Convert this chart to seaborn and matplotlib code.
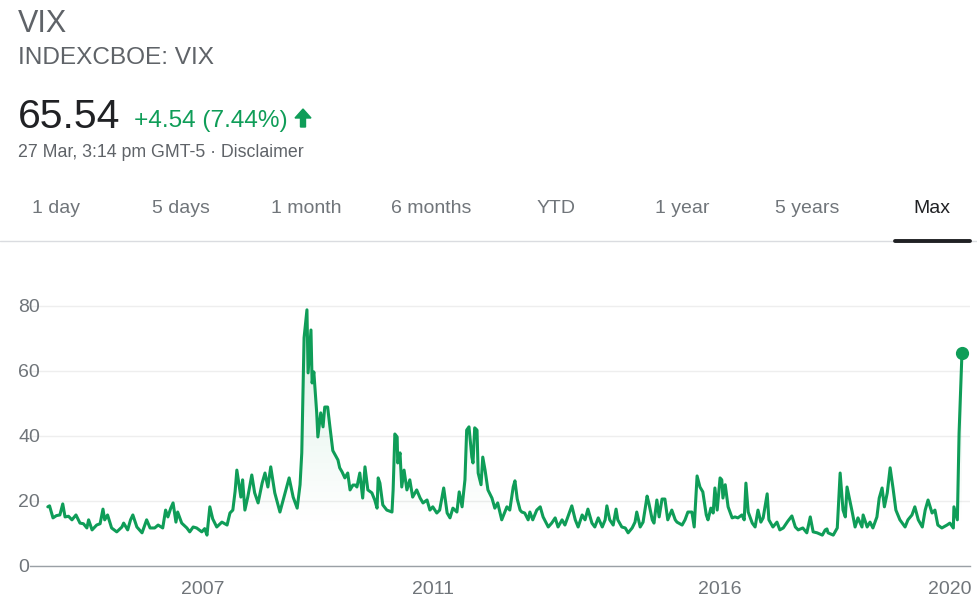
import matplotlib
matplotlib.use('Agg')
import matplotlib.pyplot as plt
from matplotlib.lines import Line2D
from matplotlib.patches import Polygon
from matplotlib.colors import to_rgb
import seaborn as sns
import numpy as np
import pandas as pd

# VIX weekly-ish values
years = [
    2004.30, 2004.33, 2004.39, 2004.45, 2004.51, 2004.56, 2004.60, 2004.66, 2004.72, 2004.79,
    2004.86, 2004.92, 2004.98, 2005.01, 2005.07, 2005.15, 2005.21, 2005.26, 2005.29, 2005.34,
    2005.41, 2005.50, 2005.59, 2005.62, 2005.69, 2005.74, 2005.78, 2005.85, 2005.94, 2006.02,
    2006.08, 2006.16, 2006.22, 2006.30, 2006.35, 2006.39, 2006.44, 2006.48, 2006.53, 2006.56,
    2006.63, 2006.72, 2006.77, 2006.83, 2006.89, 2006.98, 2007.03, 2007.07, 2007.12, 2007.17,
    2007.24, 2007.33, 2007.42, 2007.47, 2007.52, 2007.56, 2007.59, 2007.66, 2007.69, 2007.73,
    2007.78, 2007.85, 2007.90, 2007.96, 2008.03, 2008.08, 2008.13, 2008.18, 2008.25, 2008.34,
    2008.43, 2008.50, 2008.57, 2008.64, 2008.69, 2008.72, 2008.76, 2008.81, 2008.83, 2008.88,
    2008.90, 2008.93, 2008.98, 2009.00, 2009.05, 2009.09, 2009.12, 2009.17, 2009.21, 2009.26,
    2009.30, 2009.35, 2009.38, 2009.42, 2009.47, 2009.52, 2009.56, 2009.61, 2009.65, 2009.68,
    2009.73, 2009.78, 2009.82, 2009.87, 2009.94, 2009.99, 2010.03, 2010.05, 2010.08, 2010.13,
    2010.20, 2010.29, 2010.31, 2010.34, 2010.38, 2010.39, 2010.43, 2010.46, 2010.50, 2010.55,
    2010.60, 2010.65, 2010.72, 2010.78, 2010.83, 2010.90, 2010.95, 2011.00, 2011.07, 2011.12,
    2011.19, 2011.25, 2011.30, 2011.35, 2011.42, 2011.46, 2011.51, 2011.56, 2011.59, 2011.63,
    2011.68, 2011.70, 2011.73, 2011.77, 2011.79, 2011.84, 2011.87, 2011.91, 2011.96, 2012.03,
    2012.08, 2012.13, 2012.20, 2012.29, 2012.34, 2012.40, 2012.43, 2012.47, 2012.52, 2012.55,
    2012.60, 2012.66, 2012.69, 2012.74, 2012.81, 2012.87, 2012.92, 2013.01, 2013.07, 2013.13,
    2013.18, 2013.25, 2013.30, 2013.35, 2013.42, 2013.48, 2013.53, 2013.60, 2013.65, 2013.70,
    2013.77, 2013.82, 2013.88, 2013.95, 2014.00, 2014.03, 2014.08, 2014.14, 2014.19, 2014.22,
    2014.29, 2014.35, 2014.40, 2014.47, 2014.52, 2014.55, 2014.61, 2014.66, 2014.73, 2014.76,
    2014.82, 2014.85, 2014.90, 2014.94, 2014.99, 2015.04, 2015.09, 2015.16, 2015.22, 2015.25,
    2015.34, 2015.39, 2015.44, 2015.51, 2015.55, 2015.60, 2015.65, 2015.70, 2015.76, 2015.79,
    2015.84, 2015.88, 2015.91, 2015.95, 2016.00, 2016.03, 2016.05, 2016.09, 2016.14, 2016.21,
    2016.26, 2016.31, 2016.38, 2016.42, 2016.45, 2016.49, 2016.56, 2016.61, 2016.66, 2016.71,
    2016.75, 2016.82, 2016.85, 2016.92, 2016.99, 2017.04, 2017.10, 2017.18, 2017.25, 2017.31,
    2017.36, 2017.44, 2017.51, 2017.57, 2017.62, 2017.69, 2017.78, 2017.83, 2017.86, 2017.88,
    2017.97, 2018.04, 2018.09, 2018.14, 2018.18, 2018.21, 2018.25, 2018.30, 2018.35, 2018.40,
    2018.47, 2018.49, 2018.56, 2018.61, 2018.66, 2018.73, 2018.77, 2018.82, 2018.86, 2018.91,
    2018.96, 2019.01, 2019.06, 2019.13, 2019.22, 2019.27, 2019.34, 2019.39, 2019.45, 2019.52,
    2019.57, 2019.62, 2019.69, 2019.74, 2019.79, 2019.86, 2019.95, 2020.00, 2020.06, 2020.07,
    2020.13, 2020.16, 2020.21,
]
vix = [
    18.2, 18.5, 14.8, 15.5, 15.7, 19.1, 15.1, 15.3, 14.2, 15.7,
    13.2, 13.0, 11.7, 14.2, 11.1, 12.6, 13.0, 17.5, 14.2, 15.7,
    11.7, 10.5, 12.0, 13.2, 11.1, 14.2, 15.7, 12.0, 10.2, 14.2,
    11.7, 11.7, 12.6, 11.7, 17.2, 15.1, 17.8, 19.4, 13.5, 16.6,
    13.2, 11.7, 10.5, 12.0, 11.7, 10.5, 11.5, 9.5, 18.2, 14.5,
    12.0, 13.5, 12.6, 16.3, 17.2, 23.0, 29.5, 21.2, 26.5, 17.2,
    21.2, 28.0, 22.5, 19.4, 25.5, 28.6, 24.3, 30.5, 22.5, 16.6,
    22.5, 27.1, 21.2, 17.8, 25.0, 34.8, 70.2, 78.8, 59.4, 72.6,
    56.3, 59.7, 47.1, 39.7, 47.1, 42.8, 48.9, 48.9, 42.8, 35.5,
    34.2, 32.6, 30.2, 29.0, 27.1, 28.6, 23.4, 24.9, 24.9, 24.3,
    28.6, 20.9, 30.5, 23.4, 22.5, 20.3, 17.8, 27.1, 25.5, 18.8,
    17.2, 16.6, 23.4, 40.6, 39.7, 31.7, 34.8, 24.3, 29.5, 23.4,
    26.5, 21.2, 23.4, 20.9, 19.4, 20.3, 17.2, 18.2, 16.3, 17.2,
    24.0, 16.3, 14.8, 17.8, 16.6, 22.8, 18.2, 26.5, 41.8, 42.8,
    33.5, 31.7, 42.5, 41.8, 28.6, 25.0, 33.5, 29.5, 23.4, 20.9,
    17.8, 19.4, 14.2, 18.2, 17.2, 24.3, 26.2, 20.6, 17.2, 16.6,
    16.3, 14.2, 16.6, 14.2, 17.2, 18.2, 15.1, 12.0, 13.2, 14.8,
    12.0, 14.2, 12.6, 15.1, 18.5, 14.2, 12.0, 15.7, 14.2, 17.5,
    13.2, 12.0, 14.8, 12.0, 14.2, 18.5, 14.2, 12.6, 17.5, 14.2,
    12.0, 11.7, 10.2, 11.7, 13.5, 16.6, 12.0, 13.5, 21.5, 19.4,
    14.2, 13.2, 20.3, 15.1, 20.6, 20.6, 14.2, 17.2, 14.2, 13.5,
    12.6, 14.2, 16.6, 16.6, 12.0, 27.7, 24.3, 22.8, 15.7, 14.2,
    17.8, 16.3, 24.0, 17.2, 27.1, 26.5, 20.9, 25.0, 18.2, 14.8,
    15.1, 14.8, 15.7, 14.2, 25.5, 16.6, 13.2, 12.0, 17.2, 13.5,
    14.8, 22.2, 14.2, 12.0, 13.5, 11.1, 11.7, 13.8, 15.4, 12.0,
    11.1, 11.7, 10.2, 15.1, 10.5, 10.2, 9.5, 11.1, 11.4, 10.2,
    9.5, 11.7, 28.6, 17.2, 15.1, 24.3, 20.9, 16.6, 12.0, 14.8,
    12.0, 15.7, 12.0, 13.5, 11.7, 15.1, 20.9, 24.0, 18.2, 22.5,
    30.2, 24.0, 17.2, 14.2, 12.0, 14.2, 15.7, 18.2, 14.2, 12.0,
    17.2, 20.3, 16.3, 17.2, 12.6, 11.7, 12.6, 13.2, 11.7, 18.2,
    14.2, 40.9, 65.54,
]
tick_years = [2007, 2011, 2016, 2020]
y_ticks = [0, 20, 40, 60, 80]
tabs = ['1 day', '5 days', '1 month', '6 months', 'YTD', '1 year', '5 years', 'Max']

df = pd.DataFrame({'year': years, 'vix': vix})

green = '#0f9d58'
grey = '#70757a'
W, H = 978, 608

sns.set_style('white')
plt.rcParams['font.family'] = ['Liberation Sans', 'DejaVu Sans']

fig = plt.figure(figsize=(W / 100, H / 100), dpi=100)


def px_text(x, y, s, **kw):
    # place text by pixel position (y from top)
    fig.text(x / W, 1 - y / H, s, **kw)


def px(x, y):
    return (x / W, 1 - y / H)


# header
px_text(18, 32, 'VIX', fontsize=22, color='#5f6368', va='baseline')
px_text(18, 64, 'INDEXCBOE: VIX', fontsize=17.6, color='#5f6368', va='baseline')
px_text(18, 128, '65.54', fontsize=29.5, color='#202124', va='baseline')
px_text(134, 127, '+4.54 (7.44%)', fontsize=17.6, color=green, va='baseline')

# solid up arrow next to the change
arrow = [px(300.5, 127), px(305.5, 127), px(305.5, 118), px(311, 118),
         px(303, 109), px(295, 118), px(300.5, 118)]
fig.add_artist(Polygon(arrow, closed=True, color=green, transform=fig.transFigure))

px_text(18, 157, '27 Mar, 3:14 pm GMT-5 \u00b7 Disclaimer', fontsize=12.8,
        color='#5f6368', va='baseline')

# range tabs
tab_x = [56, 181, 306, 431, 556, 682, 807, 932]
for name, x in zip(tabs, tab_x):
    px_text(x, 213, name, fontsize=14, ha='center', va='baseline',
            color='#202124' if name == 'Max' else grey)
fig.add_artist(Line2D([0, 1], [1 - 241 / H] * 2, color='#dadce0', lw=1))
fig.add_artist(Line2D([895 / W, 970 / W], [1 - 241 / H] * 2, color='#202124', lw=2.8))

# chart
ax = fig.add_axes([30 / W, 1 - 566 / H, 940 / W, 276 / H])
x0, x1 = 2003.99, 2020.35
y1 = 84.9

# gradient fill under the line
poly = ax.fill_between(df['year'], df['vix'], 0, color='none')
grad = np.zeros((256, 1, 4))
grad[:, :, :3] = to_rgb(green)
levels = np.linspace(0, y1, 256)
grad[:, 0, 3] = np.clip((levels - 12) / 68, 0, 1) * 0.15
im = ax.imshow(grad, extent=[x0, x1, 0, y1], origin='lower', aspect='auto', zorder=1)
im.set_clip_path(poly.get_paths()[0], transform=ax.transData)

sns.lineplot(x='year', y='vix', data=df, ax=ax, color=green, linewidth=2.2, zorder=3)
ax.plot(df['year'].iloc[-1], df['vix'].iloc[-1], 'o', color=green, ms=8.5,
        zorder=4, clip_on=False)

ax.set_xlim(x0, x1)
ax.set_ylim(0, y1)
ax.set_xlabel('')
ax.set_ylabel('')

ax.set_xticks(tick_years)
ax.set_xticklabels([str(t) for t in tick_years])
ax.set_yticks(y_ticks)
ax.set_yticklabels([str(t) for t in y_ticks])
ax.tick_params(axis='x', length=7, width=1, color='#9aa0a6', pad=4,
               labelsize=14, labelcolor=grey)
ax.tick_params(axis='y', length=0, pad=8.6, labelsize=14, labelcolor=grey)
for lab in ax.get_yticklabels():
    lab.set_horizontalalignment('left')

ax.yaxis.grid(True, color='#eeeeee', lw=1)
ax.set_axisbelow(True)
for side in ['top', 'right', 'left']:
    ax.spines[side].set_visible(False)
ax.spines['bottom'].set_color('#9aa0a6')
ax.spines['bottom'].set_linewidth(1)

fig.savefig('out.png', dpi=100)
